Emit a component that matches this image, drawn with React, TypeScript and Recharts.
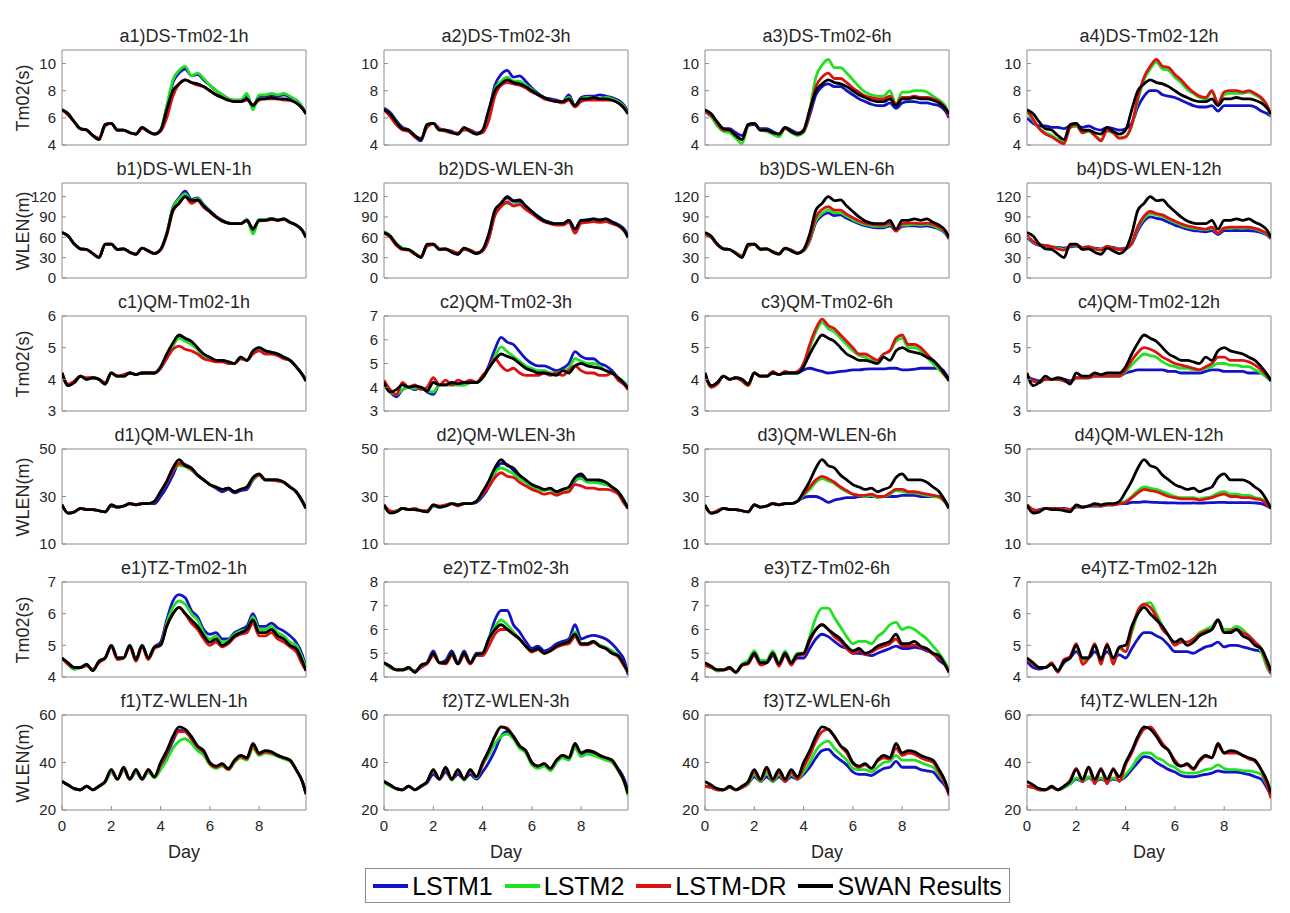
import React from 'react';
import { LineChart, Line, XAxis, YAxis, ReferenceArea } from 'recharts';

// time axis (days)
const days = [0, 0.25, 0.5, 0.75, 1, 1.25, 1.5, 1.75, 2, 2.25, 2.5, 2.75, 3, 3.25, 3.5, 3.75, 4, 4.25, 4.5, 4.75, 5, 5.25, 5.5, 5.75, 6, 6.25, 6.5, 6.75, 7, 7.25, 7.5, 7.75, 8, 8.25, 8.5, 8.75, 9, 9.25, 9.5, 9.75, 9.9];
const xTicks = [0, 2, 4, 6, 8];
const leads = ['1h', '3h', '6h', '12h'];
const seriesNames = ['LSTM1', 'LSTM2', 'LSTM-DR', 'SWAN Results'];
const seriesColors = ['#1212c8', '#22e022', '#dc1212', '#000000'];

// a) DS Tm02
const swanA = [6.6, 6.3, 5.7, 5.2, 5.1, 4.7, 4.4, 5.5, 5.6, 5.1, 5.1, 4.9, 4.8, 5.3, 5.0, 4.8, 5.1, 6.6, 8.0, 8.5, 8.8, 8.6, 8.5, 8.3, 8.0, 7.7, 7.5, 7.3, 7.2, 7.2, 7.4, 6.9, 7.4, 7.4, 7.5, 7.4, 7.4, 7.3, 7.1, 6.7, 6.3];
const a1Lstm1 = [6.6, 6.3, 5.7, 5.2, 5.1, 4.7, 4.4, 5.5, 5.6, 5.1, 5.1, 4.9, 4.8, 5.3, 5.0, 4.8, 5.1, 6.8, 8.6, 9.3, 9.6, 9.1, 9.2, 8.8, 8.4, 8.0, 7.7, 7.4, 7.3, 7.3, 7.6, 6.8, 7.6, 7.6, 7.7, 7.6, 7.7, 7.5, 7.3, 6.8, 6.3];
const a1Lstm2 = [6.6, 6.3, 5.7, 5.2, 5.1, 4.7, 4.4, 5.5, 5.6, 5.1, 5.1, 4.9, 4.8, 5.3, 5.0, 4.8, 5.1, 6.9, 8.8, 9.5, 9.8, 9.1, 9.3, 8.9, 8.4, 8.0, 7.7, 7.4, 7.3, 7.3, 7.8, 6.6, 7.7, 7.7, 7.8, 7.7, 7.8, 7.6, 7.3, 6.8, 6.3];
const a1Dr = [6.6, 6.2, 5.7, 5.2, 5.1, 4.7, 4.5, 5.4, 5.6, 5.1, 5.1, 4.9, 4.8, 5.2, 5.0, 4.8, 5.0, 6.0, 7.6, 8.5, 8.8, 8.6, 8.4, 8.3, 8.0, 7.7, 7.5, 7.3, 7.2, 7.2, 7.3, 7.0, 7.3, 7.4, 7.4, 7.4, 7.3, 7.3, 7.1, 6.7, 6.3];
const a2Lstm1 = [6.7, 6.4, 5.8, 5.3, 5.1, 4.6, 4.3, 5.5, 5.6, 5.2, 5.1, 5.0, 4.8, 5.2, 5.1, 4.9, 5.0, 6.4, 8.4, 9.2, 9.5, 9.0, 9.1, 8.7, 8.2, 7.8, 7.5, 7.4, 7.3, 7.2, 7.7, 6.9, 7.5, 7.6, 7.6, 7.7, 7.6, 7.5, 7.3, 6.9, 6.4];
const a2Lstm2 = [6.6, 6.3, 5.7, 5.2, 5.1, 4.7, 4.4, 5.5, 5.6, 5.1, 5.1, 4.9, 4.8, 5.2, 5.0, 4.8, 5.0, 6.3, 8.1, 8.7, 9.0, 8.7, 8.7, 8.4, 8.1, 7.7, 7.5, 7.3, 7.2, 7.2, 7.5, 6.9, 7.4, 7.5, 7.5, 7.4, 7.5, 7.4, 7.2, 6.8, 6.3];
const a2Dr = [6.6, 6.1, 5.5, 5.1, 5.0, 4.6, 4.5, 5.3, 5.6, 5.2, 5.0, 4.9, 4.9, 5.1, 5.1, 4.8, 4.9, 5.8, 7.6, 8.4, 8.6, 8.5, 8.4, 8.2, 7.9, 7.7, 7.4, 7.3, 7.2, 7.1, 7.3, 6.8, 7.2, 7.3, 7.3, 7.3, 7.3, 7.3, 7.1, 6.7, 6.3];
const a3Lstm1 = [6.5, 6.1, 5.6, 5.2, 5.2, 4.9, 4.7, 5.4, 5.5, 5.2, 5.2, 5.0, 4.8, 5.3, 5.1, 4.9, 5.0, 6.2, 7.7, 8.3, 8.5, 8.3, 8.3, 8.0, 7.7, 7.4, 7.2, 7.0, 6.9, 6.9, 7.1, 6.7, 7.1, 7.2, 7.2, 7.1, 7.1, 7.0, 6.9, 6.5, 6.0];
const a3Lstm2 = [6.6, 6.1, 5.4, 5.0, 4.9, 4.5, 4.1, 5.4, 5.6, 5.1, 5.0, 4.8, 4.6, 5.2, 4.9, 4.7, 4.9, 6.6, 9.0, 9.9, 10.3, 9.7, 9.7, 9.3, 8.8, 8.3, 7.9, 7.7, 7.6, 7.6, 8.0, 7.0, 7.9, 7.9, 8.0, 8.0, 7.9, 7.6, 7.3, 6.9, 6.2];
const a3Dr = [6.5, 6.2, 5.6, 5.1, 5.1, 4.7, 4.4, 5.5, 5.6, 5.1, 5.1, 4.9, 4.8, 5.2, 5.0, 4.8, 5.0, 6.4, 8.3, 9.0, 9.3, 8.9, 8.9, 8.6, 8.2, 7.9, 7.6, 7.5, 7.4, 7.4, 7.6, 7.0, 7.5, 7.5, 7.6, 7.5, 7.5, 7.4, 7.2, 6.7, 6.1];
const a4Lstm1 = [6.0, 5.6, 5.4, 5.4, 5.3, 5.3, 5.2, 5.4, 5.4, 5.3, 5.4, 5.2, 5.1, 5.3, 5.2, 5.1, 5.2, 5.6, 6.8, 7.6, 8.0, 8.0, 7.7, 7.6, 7.5, 7.3, 7.1, 6.9, 6.8, 6.8, 6.9, 6.5, 6.9, 6.9, 6.9, 6.9, 6.9, 6.8, 6.5, 6.3, 6.1];
const a4Lstm2 = [6.5, 5.8, 5.2, 4.9, 4.7, 4.4, 4.2, 5.3, 5.4, 4.9, 5.0, 4.7, 4.4, 5.0, 4.9, 4.5, 4.6, 5.4, 7.3, 8.8, 9.6, 10.1, 9.6, 9.5, 9.0, 8.6, 8.1, 7.8, 7.5, 7.4, 7.9, 7.0, 7.7, 7.8, 7.8, 7.8, 7.9, 7.7, 7.4, 6.8, 6.1];
const a4Dr = [6.6, 5.9, 5.2, 4.8, 4.6, 4.3, 4.1, 5.3, 5.5, 4.9, 5.1, 4.7, 4.3, 5.1, 4.9, 4.5, 4.6, 5.5, 7.5, 9.0, 9.8, 10.3, 9.8, 9.7, 9.2, 8.8, 8.3, 7.9, 7.6, 7.5, 8.0, 7.1, 7.9, 8.0, 8.0, 7.9, 8.0, 7.8, 7.5, 6.9, 6.2];

// b) DS WLEN
const swanB = [67, 62, 50, 43, 42, 36, 30, 50, 50, 42, 43, 38, 35, 44, 40, 36, 42, 65, 100, 110, 120, 114, 115, 106, 98, 90, 84, 81, 80, 80, 85, 72, 85, 85, 87, 85, 87, 82, 78, 70, 60];
const b1Lstm1 = [67, 62, 50, 43, 42, 36, 30, 50, 50, 42, 43, 38, 35, 44, 40, 36, 42, 66, 104, 118, 128, 116, 118, 108, 99, 91, 85, 81, 80, 80, 86, 70, 86, 86, 88, 86, 87, 82, 78, 70, 60];
const b1Lstm2 = [67, 62, 50, 43, 42, 36, 30, 50, 50, 42, 43, 38, 35, 44, 40, 36, 42, 66, 103, 116, 124, 114, 117, 107, 98, 90, 84, 81, 80, 80, 86, 65, 86, 86, 87, 86, 87, 82, 78, 70, 60];
const b1Dr = [67, 62, 50, 43, 42, 36, 31, 49, 50, 42, 43, 38, 35, 44, 40, 36, 41, 63, 98, 110, 120, 110, 114, 104, 97, 90, 84, 81, 80, 80, 84, 74, 84, 85, 86, 85, 86, 82, 78, 70, 60];
const b2Lstm1 = [68, 62, 50, 43, 42, 36, 31, 48, 50, 42, 43, 38, 35, 44, 40, 36, 40, 58, 95, 110, 118, 113, 113, 106, 98, 91, 85, 82, 80, 80, 85, 72, 85, 86, 87, 86, 87, 83, 79, 72, 62];
const b2Lstm2 = [68, 62, 51, 44, 42, 37, 31, 49, 50, 43, 43, 39, 36, 43, 41, 37, 41, 60, 94, 106, 110, 108, 109, 103, 96, 89, 84, 81, 80, 79, 83, 70, 83, 84, 85, 84, 85, 81, 78, 70, 61];
const b2Dr = [66, 60, 48, 42, 41, 35, 32, 47, 49, 43, 42, 40, 37, 42, 41, 37, 40, 58, 92, 105, 112, 106, 108, 101, 95, 88, 83, 80, 78, 78, 82, 66, 81, 82, 83, 82, 83, 80, 77, 69, 60];
const b3Lstm1 = [64, 60, 49, 43, 42, 37, 33, 47, 50, 43, 43, 39, 36, 43, 41, 37, 40, 55, 82, 92, 96, 92, 93, 88, 84, 80, 77, 75, 74, 74, 77, 70, 76, 77, 77, 76, 77, 75, 72, 66, 58];
const b3Lstm2 = [64, 60, 49, 43, 42, 37, 33, 47, 50, 43, 43, 39, 36, 43, 41, 37, 40, 56, 85, 95, 100, 96, 96, 91, 86, 82, 79, 77, 76, 76, 79, 71, 78, 78, 79, 78, 79, 77, 73, 67, 59];
const b3Dr = [65, 60, 49, 43, 42, 37, 32, 48, 50, 43, 43, 39, 36, 44, 41, 37, 41, 58, 90, 101, 105, 100, 100, 94, 89, 84, 81, 79, 78, 78, 81, 69, 80, 81, 81, 80, 81, 79, 75, 68, 59];
const b4Lstm1 = [60, 52, 48, 47, 46, 45, 44, 46, 47, 45, 46, 44, 43, 46, 45, 43, 44, 50, 70, 84, 90, 88, 86, 82, 78, 75, 72, 70, 69, 68, 70, 64, 70, 70, 70, 70, 70, 69, 67, 63, 58];
const b4Lstm2 = [62, 53, 49, 48, 46, 44, 42, 47, 48, 45, 46, 43, 42, 46, 44, 42, 43, 51, 74, 88, 95, 93, 91, 86, 82, 78, 75, 73, 72, 71, 73, 66, 73, 73, 74, 73, 74, 72, 69, 64, 59];
const b4Dr = [63, 54, 49, 48, 46, 43, 41, 47, 49, 45, 46, 43, 41, 47, 44, 42, 43, 52, 76, 91, 98, 95, 93, 88, 84, 80, 77, 75, 73, 72, 75, 66, 74, 75, 75, 75, 75, 73, 70, 65, 59];

// c) QM Tm02
const swanC = [4.2, 3.8, 3.9, 4.1, 4.0, 4.05, 4.0, 3.85, 4.2, 4.1, 4.1, 4.2, 4.15, 4.2, 4.2, 4.2, 4.4, 4.8, 5.15, 5.4, 5.3, 5.2, 5.0, 4.8, 4.7, 4.6, 4.6, 4.55, 4.5, 4.7, 4.6, 4.9, 5.0, 4.9, 4.85, 4.8, 4.7, 4.6, 4.4, 4.15, 3.95];
const c1Lstm1 = [4.2, 3.8, 3.9, 4.1, 4.0, 4.05, 4.0, 3.85, 4.2, 4.1, 4.1, 4.2, 4.15, 4.2, 4.2, 4.2, 4.35, 4.75, 5.1, 5.35, 5.25, 5.15, 4.95, 4.75, 4.65, 4.6, 4.6, 4.55, 4.5, 4.7, 4.6, 4.85, 5.0, 4.9, 4.85, 4.8, 4.7, 4.6, 4.4, 4.15, 3.95];
const c1Lstm2 = [4.2, 3.8, 3.9, 4.1, 4.0, 4.05, 4.0, 3.85, 4.2, 4.1, 4.1, 4.2, 4.15, 4.2, 4.2, 4.2, 4.35, 4.7, 5.05, 5.3, 5.2, 5.1, 4.95, 4.75, 4.65, 4.6, 4.6, 4.55, 4.5, 4.7, 4.6, 4.85, 4.95, 4.9, 4.85, 4.8, 4.7, 4.6, 4.4, 4.15, 3.95];
const c1Dr = [4.2, 3.85, 3.95, 4.1, 4.05, 4.05, 4.0, 3.9, 4.2, 4.1, 4.15, 4.2, 4.15, 4.2, 4.2, 4.2, 4.35, 4.65, 4.95, 5.05, 4.95, 4.9, 4.8, 4.65, 4.6, 4.55, 4.55, 4.5, 4.5, 4.65, 4.6, 4.8, 4.9, 4.8, 4.8, 4.75, 4.65, 4.6, 4.4, 4.15, 3.95];
const c2Lstm1 = [4.1, 3.8, 3.6, 3.9, 4.0, 3.9, 4.0, 3.8, 3.7, 4.1, 4.1, 4.1, 4.1, 4.1, 4.2, 4.2, 4.4, 4.9, 5.6, 6.1, 5.9, 5.8, 5.5, 5.2, 5.0, 4.9, 4.9, 4.8, 4.7, 4.8, 5.0, 5.5, 5.3, 5.2, 5.2, 5.0, 4.9, 4.7, 4.4, 4.2, 4.0];
const c2Lstm2 = [4.1, 3.8, 3.7, 3.9, 4.0, 3.95, 4.0, 3.85, 3.8, 4.1, 4.1, 4.1, 4.1, 4.1, 4.2, 4.2, 4.4, 4.8, 5.3, 5.7, 5.5, 5.3, 5.1, 4.9, 4.8, 4.7, 4.7, 4.6, 4.6, 4.7, 4.8, 5.2, 5.1, 5.0, 5.0, 4.9, 4.7, 4.6, 4.4, 4.2, 4.0];
const c2Dr = [4.3, 3.9, 3.7, 4.2, 4.0, 4.1, 3.9, 4.0, 4.4, 4.1, 4.3, 4.1, 4.3, 4.2, 4.3, 4.2, 4.5, 4.8, 5.2, 4.9, 4.7, 4.8, 4.6, 4.5, 4.5, 4.5, 4.6, 4.5, 4.6, 4.5, 4.7, 4.9, 4.7, 4.6, 4.6, 4.5, 4.5, 4.6, 4.3, 4.1, 3.9];
const c3Lstm1 = [4.1, 3.8, 3.9, 4.1, 4.0, 4.05, 4.0, 3.85, 4.2, 4.1, 4.1, 4.2, 4.15, 4.2, 4.2, 4.2, 4.3, 4.35, 4.3, 4.25, 4.2, 4.22, 4.25, 4.27, 4.3, 4.3, 4.32, 4.33, 4.33, 4.33, 4.35, 4.35, 4.3, 4.3, 4.32, 4.35, 4.35, 4.35, 4.35, 4.2, 4.0];
const c3Lstm2 = [4.2, 3.75, 3.85, 4.1, 4.0, 4.05, 3.95, 3.8, 4.2, 4.1, 4.1, 4.2, 4.15, 4.2, 4.2, 4.2, 4.5, 5.0, 5.5, 5.8, 5.6, 5.5, 5.3, 5.1, 4.9, 4.75, 4.7, 4.6, 4.6, 4.8, 4.9, 5.2, 5.3, 5.0, 5.0, 4.9, 4.7, 4.5, 4.3, 4.1, 3.95];
const c3Dr = [4.2, 3.75, 3.85, 4.1, 4.0, 4.05, 3.95, 3.8, 4.2, 4.1, 4.1, 4.25, 4.15, 4.25, 4.2, 4.25, 4.5, 5.1, 5.6, 5.9, 5.7, 5.6, 5.4, 5.2, 5.0, 4.8, 4.8, 4.7, 4.6, 4.8, 4.9, 5.3, 5.4, 5.1, 5.1, 5.0, 4.8, 4.6, 4.4, 4.1, 4.0];
const c4Lstm1 = [4.1, 4.0, 3.95, 4.0, 4.0, 4.0, 4.0, 3.95, 4.05, 4.05, 4.05, 4.1, 4.1, 4.1, 4.1, 4.1, 4.2, 4.25, 4.3, 4.3, 4.3, 4.3, 4.3, 4.25, 4.25, 4.2, 4.2, 4.2, 4.2, 4.25, 4.3, 4.3, 4.25, 4.25, 4.25, 4.25, 4.2, 4.2, 4.2, 4.05, 3.95];
const c4Lstm2 = [4.1, 3.95, 3.9, 4.0, 4.0, 4.0, 3.95, 3.9, 4.05, 4.05, 4.05, 4.1, 4.1, 4.1, 4.1, 4.1, 4.25, 4.45, 4.65, 4.8, 4.75, 4.7, 4.55, 4.45, 4.4, 4.35, 4.35, 4.3, 4.3, 4.35, 4.4, 4.5, 4.5, 4.45, 4.45, 4.4, 4.4, 4.3, 4.2, 4.05, 3.95];
const c4Dr = [4.1, 3.95, 3.9, 4.0, 4.0, 4.0, 3.95, 3.9, 4.05, 4.05, 4.05, 4.1, 4.1, 4.1, 4.1, 4.1, 4.3, 4.6, 4.85, 5.0, 4.95, 4.85, 4.7, 4.6, 4.5, 4.45, 4.4, 4.35, 4.3, 4.4, 4.5, 4.7, 4.7, 4.6, 4.6, 4.6, 4.55, 4.45, 4.3, 4.1, 4.0];

// d) QM WLEN
const swanD = [26.5, 23, 23.5, 25, 24.5, 24.5, 24, 23.5, 26.5, 25.5, 26, 27, 26.5, 27, 27, 28, 32, 36.5, 42, 45.5, 43, 42, 39, 37, 35, 34, 33, 33.5, 32, 33, 34, 38, 39.5, 37, 37, 37, 36, 34, 32, 28, 25];
const d1Lstm1 = [26.5, 23, 23.5, 25, 24.5, 24.5, 24, 23.5, 26, 25.5, 26, 27, 26.5, 27, 27, 27, 30, 34, 39, 44, 43.5, 42, 39, 37, 35, 33.5, 32, 33, 31.5, 32.5, 33, 37, 39, 37, 37, 37, 36, 34, 32, 28, 25];
const d1Lstm2 = [26.5, 23, 23.5, 25, 24.5, 24.5, 24, 23.5, 26.5, 25.5, 26, 27, 26.5, 27, 27, 28, 32, 36, 41, 43, 42.5, 41, 39, 37, 35, 34, 33, 33.5, 32, 33, 34, 37, 39, 37, 37, 37, 36, 34, 32, 28, 25];
const d1Dr = [26.5, 23, 23.5, 25, 24.5, 24.5, 24, 23.5, 26.5, 25.5, 26, 27, 26.5, 27, 27, 28, 32, 36, 41, 44, 43, 41.5, 39, 37, 35, 34, 33, 33.5, 32, 33, 34, 37.5, 39, 37, 37, 36.5, 36, 34, 32, 28, 25];
const d2Lstm1 = [26, 23.5, 24, 25, 24.5, 24.5, 24, 23.5, 26, 25.5, 26, 27, 26.5, 27, 27, 27.5, 30, 34, 40, 44, 43.5, 41, 38.5, 36.5, 35, 34, 33, 33, 32, 33, 33.5, 36.5, 38.5, 36.5, 36.5, 36, 35.5, 34, 32, 28, 25];
const d2Lstm2 = [26, 23.5, 24, 25, 24.5, 24.5, 24, 23.5, 26, 25.5, 26, 27, 26.5, 27, 27, 28, 31, 35, 40, 42, 41, 39.5, 37.5, 36, 34, 33, 32.5, 33, 31.5, 32.5, 33, 37, 37.5, 36, 36, 35.5, 35, 34, 32, 28, 26];
const d2Dr = [26.5, 24, 23.5, 25, 24.5, 25, 24, 24, 26.5, 26, 26.5, 27, 26, 27, 27, 28, 31, 34, 38, 40, 38.5, 38, 36, 34.5, 33, 32, 31, 31.5, 30.5, 31.5, 32, 35, 34.5, 33.5, 33.5, 33, 33, 32.5, 31, 27, 25];
const d3Lstm1 = [26, 23, 24, 25, 24.5, 24.5, 24, 23.5, 26.5, 25.5, 26, 27, 26.5, 27, 27, 28, 29.5, 30, 30, 29, 27.5, 28.5, 29, 29.5, 29.5, 30, 30, 30, 30, 30, 30, 30, 30.5, 30.5, 30.5, 30, 30, 30, 30, 28, 25];
const d3Lstm2 = [26, 23, 24, 25, 24.5, 24.5, 24, 23.5, 26.5, 25.5, 26, 27, 26.5, 27, 27, 28, 30.5, 33, 36, 37.5, 36.5, 35.5, 33.5, 32, 31, 30.5, 30, 30.5, 29.5, 30, 31, 32.5, 32, 31.5, 31.5, 31, 30.5, 30, 29.5, 27.5, 25];
const d3Dr = [26, 23, 24, 25, 24.5, 24.5, 24, 23.5, 26.5, 25.5, 26, 27, 26.5, 27, 27, 28, 31, 34, 37, 38.5, 37.5, 36, 34, 32.5, 31, 30.5, 30.5, 31, 30, 30, 31.5, 33, 33, 32, 32, 31.5, 31, 30.5, 30, 27.5, 25];
const d4Lstm1 = [26, 24, 24.5, 25, 25, 25, 25, 24.5, 25.5, 25.5, 26, 26, 26, 26.5, 26.5, 27, 27, 27.5, 27.5, 27.8, 27.6, 27.5, 27.4, 27.3, 27.3, 27.2, 27.2, 27.3, 27.2, 27.3, 27.4, 27.5, 27.5, 27.4, 27.4, 27.4, 27.4, 27.3, 27, 26, 25];
const d4Lstm2 = [26.5, 24.5, 24, 25, 25, 25, 24.5, 24.5, 26, 25.5, 26, 26.5, 26, 26.5, 26.5, 27, 28, 30, 32.5, 34, 33.5, 33, 32, 31, 30, 29.5, 29.5, 29.5, 29, 29.5, 30, 31.5, 32, 31, 31, 30.5, 30.5, 29.5, 29, 27, 25];
const d4Dr = [26.5, 24.5, 24, 25, 25, 25, 24.5, 24.5, 26, 25.5, 26, 26.5, 26, 26.5, 26.5, 27, 27.5, 29.5, 31.5, 33, 32.5, 32, 31, 30, 29.5, 29, 29, 29, 28.5, 29, 29.5, 30.5, 31, 30, 30, 29.5, 29.5, 29, 28.5, 26.5, 25];

// e) TZ Tm02
const swanE = [4.6, 4.45, 4.3, 4.3, 4.4, 4.2, 4.5, 4.6, 5.0, 4.6, 4.6, 5.0, 4.55, 5.0, 4.6, 4.95, 5.0, 5.6, 6.0, 6.2, 6.0, 5.8, 5.6, 5.3, 5.1, 5.2, 5.0, 5.1, 5.3, 5.4, 5.5, 5.8, 5.4, 5.4, 5.5, 5.3, 5.2, 5.0, 4.9, 4.5, 4.2];
const e1Lstm1 = [4.6, 4.4, 4.25, 4.3, 4.4, 4.2, 4.5, 4.6, 5.0, 4.6, 4.6, 5.0, 4.55, 5.0, 4.6, 4.95, 5.1, 5.8, 6.4, 6.6, 6.5, 6.1, 5.9, 5.5, 5.35, 5.4, 5.2, 5.2, 5.4, 5.5, 5.6, 6.0, 5.6, 5.6, 5.7, 5.55, 5.45, 5.3, 5.1, 4.7, 4.3];
const e1Lstm2 = [4.6, 4.4, 4.25, 4.3, 4.4, 4.2, 4.5, 4.6, 5.0, 4.6, 4.6, 5.0, 4.55, 5.0, 4.6, 4.95, 5.0, 5.7, 6.2, 6.4, 6.3, 6.0, 5.8, 5.4, 5.2, 5.3, 5.1, 5.15, 5.35, 5.45, 5.5, 5.9, 5.5, 5.5, 5.6, 5.4, 5.3, 5.1, 5.0, 4.6, 4.3];
const e1Dr = [4.6, 4.4, 4.3, 4.3, 4.35, 4.25, 4.45, 4.6, 4.95, 4.55, 4.6, 4.95, 4.5, 4.95, 4.55, 4.9, 5.0, 5.6, 6.0, 6.2, 6.0, 5.7, 5.5, 5.2, 5.0, 5.1, 4.95, 5.05, 5.25, 5.35, 5.4, 5.7, 5.3, 5.3, 5.4, 5.2, 5.1, 4.95, 4.8, 4.4, 4.2];
const e2Lstm1 = [4.6, 4.4, 4.3, 4.3, 4.35, 4.25, 4.4, 4.6, 5.1, 4.6, 4.7, 5.1, 4.6, 5.1, 4.6, 5.0, 5.0, 5.6, 6.4, 6.8, 6.8, 6.2, 5.9, 5.5, 5.2, 5.3, 5.1, 5.2, 5.4, 5.5, 5.6, 6.2, 5.6, 5.7, 5.75, 5.7, 5.6, 5.4, 5.1, 4.7, 4.1];
const e2Lstm2 = [4.6, 4.4, 4.3, 4.3, 4.35, 4.25, 4.45, 4.6, 5.0, 4.6, 4.6, 5.0, 4.55, 5.0, 4.6, 4.95, 5.0, 5.6, 6.1, 6.4, 6.2, 5.9, 5.6, 5.3, 5.1, 5.15, 5.0, 5.1, 5.3, 5.4, 5.5, 5.9, 5.4, 5.4, 5.5, 5.35, 5.25, 5.1, 4.9, 4.5, 4.2];
const e2Dr = [4.6, 4.45, 4.3, 4.3, 4.4, 4.2, 4.45, 4.55, 4.9, 4.6, 4.55, 4.9, 4.55, 4.9, 4.55, 4.9, 4.9, 5.3, 5.8, 6.0, 6.0, 5.8, 5.6, 5.3, 5.05, 5.15, 5.0, 5.1, 5.25, 5.35, 5.4, 5.7, 5.35, 5.35, 5.45, 5.3, 5.2, 5.0, 4.85, 4.45, 4.2];
const e3Lstm1 = [4.5, 4.4, 4.3, 4.3, 4.4, 4.2, 4.5, 4.6, 4.9, 4.6, 4.6, 4.9, 4.55, 4.9, 4.6, 4.8, 4.8, 5.2, 5.6, 5.8, 5.7, 5.5, 5.3, 5.2, 5.0, 5.0, 4.95, 4.9, 5.0, 5.1, 5.2, 5.3, 5.2, 5.2, 5.25, 5.2, 5.1, 5.0, 4.7, 4.5, 4.3];
const e3Lstm2 = [4.5, 4.4, 4.25, 4.3, 4.4, 4.2, 4.55, 4.7, 5.1, 4.7, 4.7, 5.1, 4.6, 5.1, 4.65, 5.0, 5.0, 5.7, 6.5, 6.9, 6.9, 6.5, 6.1, 5.7, 5.4, 5.5, 5.5, 5.4, 5.7, 5.9, 6.2, 6.3, 6.0, 6.1, 6.0, 5.8, 5.6, 5.3, 5.0, 4.6, 4.3];
const e3Dr = [4.5, 4.4, 4.3, 4.3, 4.35, 4.2, 4.5, 4.55, 4.95, 4.5, 4.6, 4.95, 4.45, 4.95, 4.5, 4.9, 4.95, 5.5, 6.0, 6.2, 6.0, 5.7, 5.5, 5.2, 5.0, 5.1, 4.95, 5.05, 5.2, 5.3, 5.4, 5.6, 5.3, 5.3, 5.35, 5.25, 5.15, 4.95, 4.8, 4.5, 4.2];
const e4Lstm1 = [4.5, 4.3, 4.25, 4.3, 4.4, 4.2, 4.45, 4.6, 4.8, 4.6, 4.6, 4.8, 4.6, 4.8, 4.6, 4.7, 4.6, 4.9, 5.2, 5.4, 5.4, 5.3, 5.2, 5.0, 4.8, 4.8, 4.8, 4.75, 4.85, 4.95, 5.0, 5.1, 4.95, 5.0, 5.0, 4.95, 4.9, 4.85, 4.8, 4.3, 4.1];
const e4Lstm2 = [4.6, 4.4, 4.3, 4.3, 4.4, 4.2, 4.5, 4.6, 5.0, 4.5, 4.6, 5.0, 4.5, 5.0, 4.5, 4.9, 4.8, 5.4, 6.0, 6.3, 6.35, 6.0, 5.6, 5.3, 5.1, 5.1, 5.1, 5.2, 5.4, 5.5, 5.6, 5.8, 5.5, 5.5, 5.6, 5.5, 5.3, 5.1, 4.8, 4.3, 4.1];
const e4Dr = [4.6, 4.4, 4.3, 4.3, 4.45, 4.15, 4.55, 4.65, 5.05, 4.4, 4.6, 5.05, 4.4, 5.05, 4.4, 4.95, 4.8, 5.5, 6.1, 6.3, 6.2, 5.9, 5.5, 5.3, 5.0, 5.1, 5.1, 5.2, 5.35, 5.45, 5.5, 5.8, 5.4, 5.45, 5.5, 5.4, 5.3, 5.1, 4.9, 4.4, 4.1];

// f) TZ WLEN
const swanF = [32, 30.5, 29, 28.5, 30, 28.5, 30, 32, 37, 33, 38, 33, 37, 33, 37, 34, 40, 45, 51, 55, 54, 51, 47, 45, 40, 38.5, 39.5, 37.5, 41, 43, 42, 48, 44, 45, 44.5, 43, 42, 41, 37, 32, 27];
const f1Lstm1 = [32, 30.5, 29, 28.5, 30, 28.5, 30, 32, 36, 33, 37, 33, 36, 33, 36, 34, 38, 43, 49, 53.5, 53, 50, 46, 44, 39.5, 38, 39, 37, 40.5, 42.5, 41.5, 47, 43.5, 44.5, 44, 43, 42, 41, 37, 32, 27];
const f1Lstm2 = [32, 30.5, 29, 28.5, 30, 28.5, 30, 31.5, 36, 33, 37, 33, 36, 33, 36, 33.5, 37, 41, 46, 49, 50, 48, 45, 43, 39, 37.5, 38.5, 37, 40, 42, 41, 46, 43, 44, 43.5, 42.5, 41.5, 40.5, 37, 32, 28];
const f1Dr = [32, 30.5, 29, 28.5, 30, 28.5, 30, 32, 37, 33, 37.5, 33, 37, 33, 37, 34, 39, 44, 50, 53, 53, 50, 46.5, 44.5, 39.5, 38, 39, 37, 40.5, 42.5, 41.5, 47, 43.5, 44.5, 44, 43, 42, 41, 37, 32, 26.5];
const f2Lstm1 = [32, 30.5, 29, 28.5, 30, 28.5, 30, 31.5, 35, 33, 36, 33, 35, 33, 35, 33, 36, 40, 45, 51, 53, 51, 47, 44.5, 40, 38, 39, 37, 40.5, 42.5, 41.5, 47, 43, 44, 44, 42.5, 41.5, 40.5, 37.5, 33, 28];
const f2Lstm2 = [31.5, 30, 29, 28.5, 30, 28.5, 30, 32, 37, 33, 37.5, 32.5, 37, 32.5, 37, 33.5, 39, 43, 48, 51, 52, 50, 46, 44, 39, 37.5, 38.5, 36.5, 40, 42, 41, 46, 42.5, 43.5, 43, 42, 41, 40, 36.5, 31.5, 26];
const f2Dr = [32, 30.5, 29, 28.5, 30, 28.5, 30, 32, 36.5, 33, 37.5, 33, 36.5, 33, 36.5, 34, 39, 45, 51, 55, 54.5, 51, 47, 45, 40, 38.5, 39.5, 37.5, 41, 43, 42, 47.5, 44, 45, 44.5, 43, 42, 41, 37, 32, 27];
const f3Lstm1 = [30, 29.5, 28.5, 28.5, 29.5, 28.5, 29.5, 31, 34, 32, 34, 32, 34, 32, 34, 33, 35, 38, 42, 45, 45.5, 43, 41, 39, 36, 35, 35, 34.5, 36, 37.5, 38, 40.5, 38, 38, 38, 37, 36.5, 36, 33, 30, 27];
const f3Lstm2 = [30, 29.5, 28.5, 28.5, 29.5, 28.5, 29.5, 31, 35, 32, 35.5, 32, 35, 32, 35, 33, 36, 40, 45, 48, 49, 46, 43.5, 41, 37.5, 37, 37, 36, 38, 40, 40.5, 43, 41, 41, 41, 40, 39, 38, 35, 31, 27];
const f3Dr = [30, 29.5, 28.5, 28.5, 29.5, 28.5, 29.5, 31.5, 36, 32.5, 37, 32.5, 36, 32, 36, 33, 38, 43, 49, 53, 54, 51, 47, 44, 39.5, 38, 39, 37.5, 40.5, 42, 41.5, 46, 43, 44, 43.5, 42, 41, 40, 36, 31, 26];
const f4Lstm1 = [30, 29.5, 28.5, 28.5, 29.5, 28.5, 29.5, 31, 33, 32, 33.5, 32, 33, 32, 33, 32.5, 34, 37, 40, 42.5, 42, 40, 38.5, 37, 36, 34.5, 34, 34, 34.5, 35, 35.5, 36.5, 36, 36, 36, 35.5, 35, 34, 33, 29, 26];
const f4Lstm2 = [30, 29.5, 28.5, 28.5, 29.5, 28.5, 29.5, 31, 33.5, 32, 34, 32, 33.5, 32, 33.5, 32.5, 35, 38, 42, 44, 44, 42, 41, 39, 38, 36, 35.5, 35.5, 36, 37, 37.5, 39, 37.5, 37, 37, 36.5, 36.5, 36, 35, 30, 27];
const f4Dr = [30, 29.5, 28.5, 28.5, 29.5, 28.5, 30, 32.5, 37.5, 32, 38, 31, 37.5, 31, 37.5, 32, 39, 44, 50, 54, 55, 52, 48, 45, 41, 38.5, 39, 37, 40.5, 42.5, 42, 47, 44, 44, 44, 43, 41.5, 40.5, 37, 30, 25];

const rows = [
  { key: 'a', name: 'DS-Tm02', unit: 'Tm02(s)', swan: swanA,
    sets: [[a1Lstm1, a1Lstm2, a1Dr], [a2Lstm1, a2Lstm2, a2Dr], [a3Lstm1, a3Lstm2, a3Dr], [a4Lstm1, a4Lstm2, a4Dr]],
    domains: [[4, 11], [4, 11], [4, 11], [4, 11]],
    ticks: [[4, 6, 8, 10], [4, 6, 8, 10], [4, 6, 8, 10], [4, 6, 8, 10]] },
  { key: 'b', name: 'DS-WLEN', unit: 'WLEN(m)', swan: swanB,
    sets: [[b1Lstm1, b1Lstm2, b1Dr], [b2Lstm1, b2Lstm2, b2Dr], [b3Lstm1, b3Lstm2, b3Dr], [b4Lstm1, b4Lstm2, b4Dr]],
    domains: [[0, 140], [0, 140], [0, 140], [0, 140]],
    ticks: [[0, 30, 60, 90, 120], [0, 30, 60, 90, 120], [0, 30, 60, 90, 120], [0, 30, 60, 90, 120]] },
  { key: 'c', name: 'QM-Tm02', unit: 'Tm02(s)', swan: swanC,
    sets: [[c1Lstm1, c1Lstm2, c1Dr], [c2Lstm1, c2Lstm2, c2Dr], [c3Lstm1, c3Lstm2, c3Dr], [c4Lstm1, c4Lstm2, c4Dr]],
    domains: [[3, 6], [3, 7], [3, 6], [3, 6]],
    ticks: [[3, 4, 5, 6], [3, 4, 5, 6, 7], [3, 4, 5, 6], [3, 4, 5, 6]] },
  { key: 'd', name: 'QM-WLEN', unit: 'WLEN(m)', swan: swanD,
    sets: [[d1Lstm1, d1Lstm2, d1Dr], [d2Lstm1, d2Lstm2, d2Dr], [d3Lstm1, d3Lstm2, d3Dr], [d4Lstm1, d4Lstm2, d4Dr]],
    domains: [[10, 50], [10, 50], [10, 50], [10, 50]],
    ticks: [[10, 30, 50], [10, 30, 50], [10, 30, 50], [10, 30, 50]] },
  { key: 'e', name: 'TZ-Tm02', unit: 'Tm02(s)', swan: swanE,
    sets: [[e1Lstm1, e1Lstm2, e1Dr], [e2Lstm1, e2Lstm2, e2Dr], [e3Lstm1, e3Lstm2, e3Dr], [e4Lstm1, e4Lstm2, e4Dr]],
    domains: [[4, 7], [4, 8], [4, 8], [4, 7]],
    ticks: [[4, 5, 6, 7], [4, 5, 6, 7, 8], [4, 5, 6, 7, 8], [4, 5, 6, 7]] },
  { key: 'f', name: 'TZ-WLEN', unit: 'WLEN(m)', swan: swanF,
    sets: [[f1Lstm1, f1Lstm2, f1Dr], [f2Lstm1, f2Lstm2, f2Dr], [f3Lstm1, f3Lstm2, f3Dr], [f4Lstm1, f4Lstm2, f4Dr]],
    domains: [[20, 60], [20, 60], [20, 60], [20, 60]],
    ticks: [[20, 40, 60], [20, 40, 60], [20, 40, 60], [20, 40, 60]] },
];

// layout
const COL_LEFT = [62, 384, 705, 1027];
const ROW_TOP = [50, 183, 316, 449, 582, 715];
const BOX_W = 244;
const BOX_H = 95;
const AXIS = '#8c8c8c';
const TEXT = '#262626';
const FONT = '"Liberation Sans", Arial, Helvetica, sans-serif';

function Panel({ left, top, swan, set, domain, ticks, showX }: any) {
  const data = days.map((d, i) => ({ day: d, lstm1: set[0][i], lstm2: set[1][i], dr: set[2][i], swan: swan[i] }));
  const keys = ['lstm1', 'lstm2', 'dr', 'swan'];
  return (
    <div style={{ position: 'absolute', left: left - 50, top: top - 8 }}>
      <LineChart width={BOX_W + 60} height={BOX_H + 38} data={data} margin={{ top: 7, right: 9, bottom: 0, left: 0 }}>
        <ReferenceArea x1={0} x2={9.9} y1={domain[0]} y2={domain[1]} fill="none" stroke={AXIS} strokeWidth={1} />
        <XAxis
          dataKey="day"
          type="number"
          domain={[0, 9.9]}
          ticks={xTicks}
          interval={0}
          allowDataOverflow
          axisLine={false}
          tickLine={{ stroke: AXIS }}
          tickSize={-4}
          tickMargin={14}
          height={30}
          tick={showX ? { fontSize: 15, fill: TEXT } : false}
        />
        <XAxis
          xAxisId="top"
          orientation="top"
          type="number"
          domain={[0, 9.9]}
          ticks={xTicks}
          interval={0}
          axisLine={false}
          tickLine={{ stroke: AXIS }}
          tickSize={-4}
          height={1}
          tick={false}
        />
        <YAxis
          type="number"
          domain={domain}
          ticks={ticks}
          interval={0}
          allowDataOverflow
          axisLine={false}
          tickLine={{ stroke: AXIS }}
          tickSize={-4}
          tickMargin={10}
          width={50}
          tick={{ fontSize: 15, fill: TEXT }}
        />
        <YAxis
          yAxisId="right"
          orientation="right"
          type="number"
          domain={domain}
          ticks={ticks}
          interval={0}
          axisLine={false}
          tickLine={{ stroke: AXIS }}
          tickSize={-4}
          width={1}
          tick={false}
        />
        {keys.map((k, i) => (
          <Line
            key={k}
            dataKey={k}
            type="monotone"
            stroke={seriesColors[i]}
            strokeWidth={2.8}
            dot={false}
            activeDot={false}
            isAnimationActive={false}
          />
        ))}
      </LineChart>
    </div>
  );
}

export default function App() {
  return (
    <div style={{ position: 'absolute', left: 0, top: 0, width: 1290, height: 913, background: '#fff', fontFamily: FONT, color: TEXT }}>
      {rows.map((row, r) =>
        row.sets.map((set, c) => (
          <React.Fragment key={row.key + c}>
            <div style={{ position: 'absolute', left: COL_LEFT[c], top: ROW_TOP[r] - 24, width: BOX_W, textAlign: 'center', fontSize: 18, lineHeight: '20px', whiteSpace: 'nowrap' }}>
              {`${row.key}${c + 1})${row.name}-${leads[c]}`}
            </div>
            <Panel
              left={COL_LEFT[c]}
              top={ROW_TOP[r]}
              swan={row.swan}
              set={set}
              domain={row.domains[c]}
              ticks={row.ticks[c]}
              showX={r === rows.length - 1}
            />
          </React.Fragment>
        ))
      )}
      {rows.map((row, r) => (
        <div key={'yl' + r} style={{ position: 'absolute', left: 23, top: ROW_TOP[r] + BOX_H / 2, transform: 'translate(-50%, -50%) rotate(-90deg)', fontSize: 18, whiteSpace: 'nowrap' }}>
          {row.unit}
        </div>
      ))}
      {COL_LEFT.map((l, c) => (
        <div key={'day' + c} style={{ position: 'absolute', left: l, top: 842, width: BOX_W, textAlign: 'center', fontSize: 18, lineHeight: '20px' }}>
          Day
        </div>
      ))}
      <div style={{ position: 'absolute', left: 365, top: 868, width: 645, height: 35, boxSizing: 'border-box', border: `1px solid ${AXIS}`, display: 'flex', alignItems: 'center', justifyContent: 'center', background: '#fff' }}>
        {seriesNames.map((n, i) => (
          <div key={n} style={{ display: 'flex', alignItems: 'center', marginLeft: i === 0 ? 0 : 12 }}>
            <div style={{ width: 35, height: 4, background: seriesColors[i], marginRight: 4 }} />
            <span style={{ fontSize: 25, lineHeight: '30px', color: '#000' }}>{n}</span>
          </div>
        ))}
      </div>
    </div>
  );
}
